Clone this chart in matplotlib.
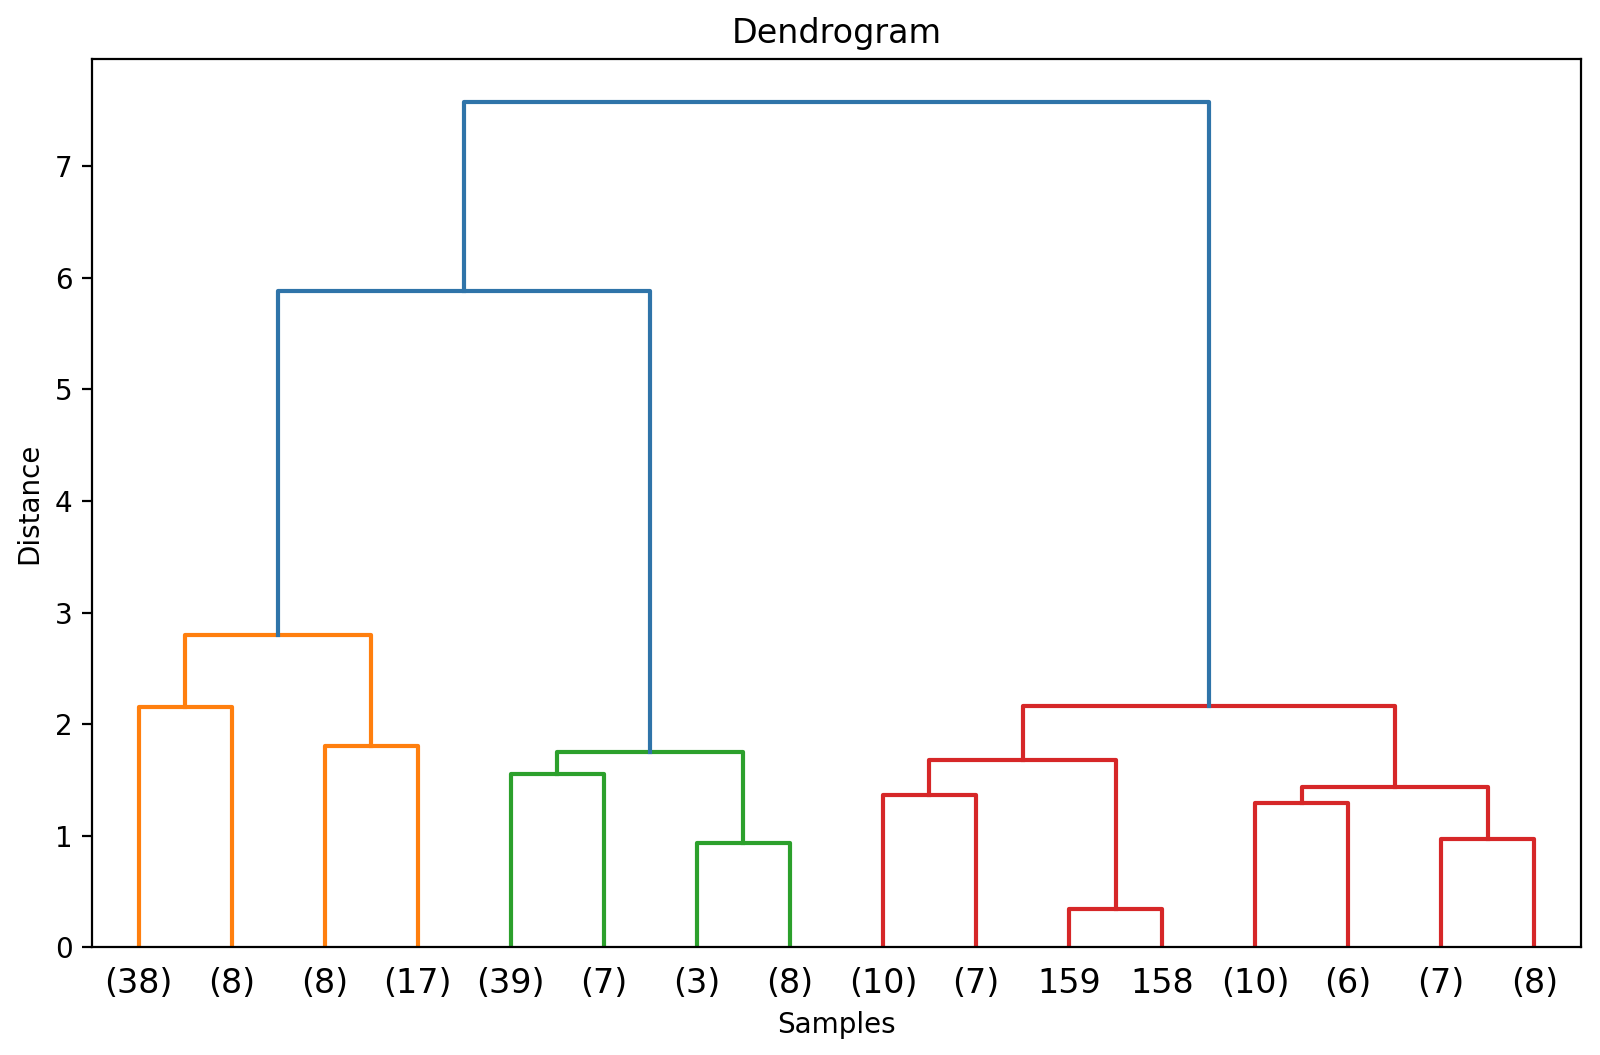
import matplotlib
matplotlib.use("Agg")
import matplotlib.pyplot as plt

# leaf labels (truncated dendrogram, left to right)
leaf_labels = ["(38)", "(8)", "(8)", "(17)", "(39)", "(7)", "(3)", "(8)",
               "(10)", "(7)", "159", "158", "(10)", "(6)", "(7)", "(8)"]

# merges: node ids 0..15 are leaves, new nodes numbered from 16 upward
merge_left = [0, 2, 16, 4, 6, 19, 18, 8, 10, 23, 12, 14, 26, 25, 22]
merge_right = [1, 3, 17, 5, 7, 20, 21, 9, 11, 24, 13, 15, 27, 28, 29]
merge_height = [2.158, 1.805, 2.80, 1.554, 0.933, 1.749, 5.88,
                1.369, 0.346, 1.683, 1.294, 0.974, 1.438, 2.164, 7.58]
merge_color = ["C1", "C1", "C1", "C2", "C2", "C2", "C0",
               "C3", "C3", "C3", "C3", "C3", "C3", "C3", "C0"]

colors = {"C0": "#2f74a9", "C1": "#ff7f0e", "C2": "#2ca02c", "C3": "#d62728"}

n = len(leaf_labels)
pos_x = {i: 5 + 10 * i for i in range(n)}
pos_y = {i: 0.0 for i in range(n)}

fig = plt.figure(figsize=(8, 5.275), dpi=200)
ax = fig.add_subplot(111)
fig.subplots_adjust(left=0.0575, right=0.988, bottom=0.1021, top=0.9438)

for k, (a, b, h, c) in enumerate(zip(merge_left, merge_right, merge_height, merge_color)):
    node = n + k
    xa, xb = pos_x[a], pos_x[b]
    ax.plot([xa, xa, xb, xb], [pos_y[a], h, h, pos_y[b]],
            color=colors[c], linewidth=1.5)
    pos_x[node] = (xa + xb) / 2
    pos_y[node] = h

ax.set_xlim(0, 10 * n)
ax.set_ylim(0, max(merge_height) * 1.05)
ax.set_xticks([pos_x[i] for i in range(n)])
ax.set_xticklabels(leaf_labels, fontsize=12)
for line in ax.get_xticklines():
    line.set_visible(False)

ax.set_title("Dendrogram")
ax.set_xlabel("Samples")
ax.set_ylabel("Distance")

fig.savefig("out.png", dpi=200)
